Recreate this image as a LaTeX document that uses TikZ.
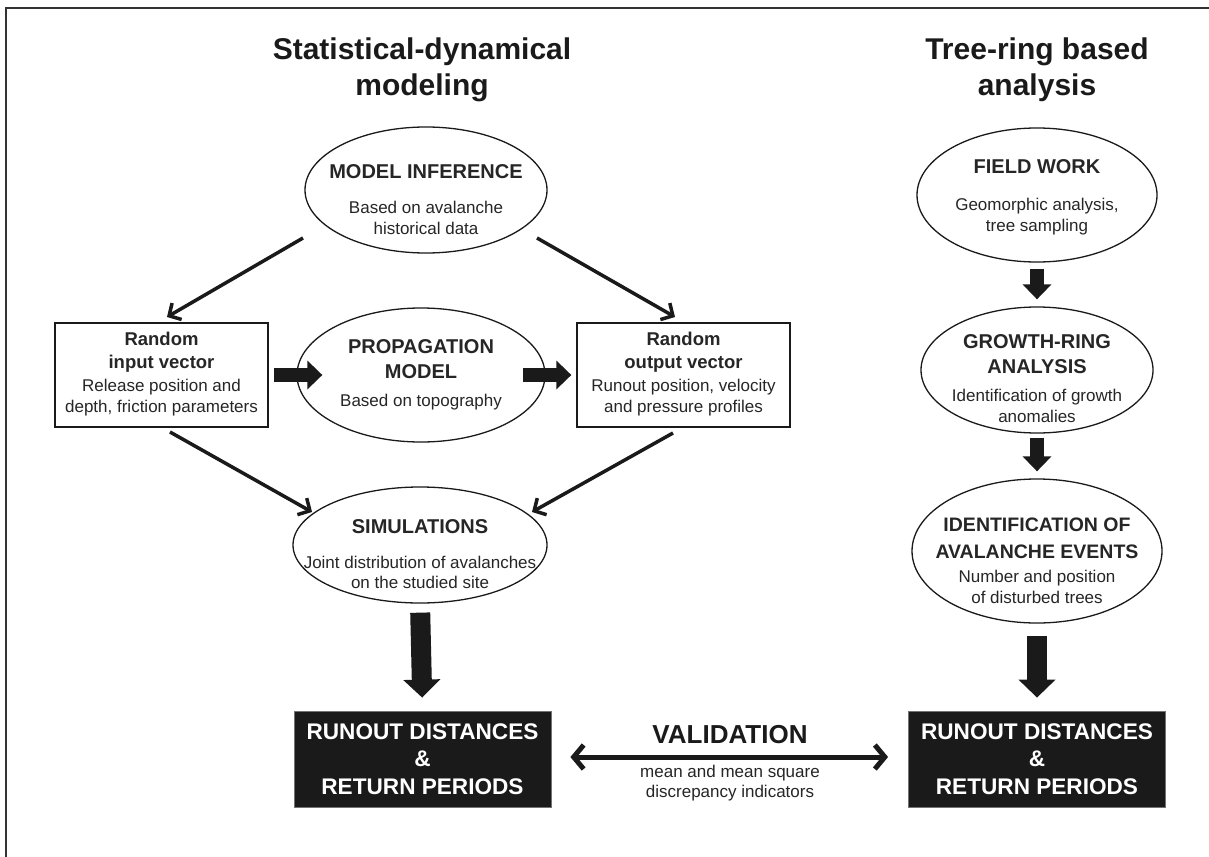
\documentclass[tikz,border=0pt]{standalone}
\usepackage{fontspec}
\setmainfont{Liberation Sans}
\usetikzlibrary{shapes.geometric,arrows.meta}
\definecolor{ink}{HTML}{1A1A1A}
\definecolor{txt}{HTML}{262626}
\begin{document}
\begin{tikzpicture}[x=1pt,y=-1pt,
  ell/.style={draw=ink, line width=1.3pt, ellipse, inner sep=0pt},
  vbox/.style={draw=ink, line width=1.3pt, rectangle, inner sep=0pt, minimum width=213pt, minimum height=104pt},
  hd/.style={font=\fontsize{20}{25}\selectfont\bfseries, align=center, inner sep=0pt, text=txt},
  hdb/.style={font=\fontsize{18.5}{23}\selectfont\bfseries, align=center, inner sep=0pt, text=txt},
  sub/.style={font=\fontsize{17}{20.5}\selectfont, align=center, inner sep=0pt, text=txt},
  ttl/.style={font=\fontsize{30}{36}\selectfont\bfseries, inner sep=0pt, anchor=base, text=ink},
  blk/.style={fill=ink, draw=black!55, line width=0.8pt, inner sep=0pt, minimum width=257pt, minimum height=96pt, text=white, align=center, font=\fontsize{22.6}{27.5}\selectfont\bfseries},
  thinarr/.style={draw=ink, line width=3.5pt, -{Straight Barb[length=9pt,width=19pt]}},
  bigarr/.style={draw=ink, line width=14pt, -{Triangle[length=15pt,width=28pt]}},
  bigarrv/.style={draw=ink, line width=20pt, -{Triangle[length=18pt,width=36pt]}},
  valarr/.style={draw=ink, line width=5pt, {Straight Barb[length=10pt,width=24pt]}-{Straight Barb[length=10pt,width=24pt]}}
]
\fill[white] (0,0) rectangle (1209,856);
\useasboundingbox (0,0) rectangle (1209,856);
\draw[line width=2pt, black!80] (6,860) -- (6,8) -- (1212,8);

% titles
\node[ttl] (t1) at (422,60) {Statistical-dynamical};
\node[ttl] (t2) at (422,96) {modeling};
\node[ttl] (t3) at (1037,60) {Tree-ring based};
\node[ttl] (t4) at (1037,96) {analysis};

% left column
\node[ell, minimum width=242pt, minimum height=126pt] (mi) at (426,190) {};
\node[hd] (mih) at (426,172) {MODEL INFERENCE};
\node[sub] (mis) at (426,218) {Based on avalanche\\historical data};

\node[vbox] (in) at (161.5,375) {};
\node[hdb] (inh) at (161.5,352.5) {Random\\input vector};
\node[sub] (ins) at (161.5,397.5) {Release position and\\depth, friction parameters};

\node[ell, minimum width=248pt, minimum height=134pt] (prop) at (421,375) {};
\node[hd] (proph) at (421,359.5) {PROPAGATION\\MODEL};
\node[sub] (props) at (421,402) {Based on topography};

\node[vbox] (out) at (683.5,375) {};
\node[hdb] (outh) at (683.5,352.5) {Random\\output vector};
\node[sub] (outs) at (683.5,397.5) {Runout position, velocity\\and pressure profiles};

\node[ell, minimum width=254pt, minimum height=116pt] (sim) at (420,545) {};
\node[hd] (simh) at (420,527) {SIMULATIONS};
\node[sub] (sims) at (420,572.5) {Joint distribution of avalanches\\on the studied site};

\node[blk] (lb) at (422.5,759) {RUNOUT DISTANCES\\\&\\RETURN PERIODS};

% right column
\node[ell, minimum width=240pt, minimum height=134pt] (fw) at (1037,195) {};
\node[hd] (fwh) at (1037,167) {FIELD WORK};
\node[sub] (fws) at (1037,216.5) {Geomorphic analysis,\\tree sampling};

\node[ell, minimum width=232pt, minimum height=126pt] (gr) at (1037,370) {};
\node[hd] (grh) at (1037,354) {GROWTH-RING\\ANALYSIS};
\node[sub] (grs) at (1037,406) {Identification of growth\\anomalies};

\node[ell, minimum width=250pt, minimum height=144pt] (id) at (1037,551) {};
\node[hd, font=\fontsize{19.5}{27}\selectfont\bfseries] (idh) at (1037,538.5) {IDENTIFICATION OF\\AVALANCHE EVENTS};
\node[sub] (ids) at (1037,587) {Number and position\\of disturbed trees};

\node[blk] (rb) at (1037,759) {RUNOUT DISTANCES\\\&\\RETURN PERIODS};

% validation
\node[font=\fontsize{26}{30}\selectfont\bfseries, text=ink, inner sep=0pt] (val) at (730,735) {VALIDATION};
\node[sub] (vals) at (730,783) {mean and mean square\\discrepancy indicators};

% thin arrows
\draw[thinarr] ([shift={(-123,48)}]mi.center) -- ([shift={(5.5,-58)}]in.center);
\draw[thinarr] ([shift={(111,48)}]mi.center) -- ([shift={(-8.5,-58)}]out.center);
\draw[thinarr] ([shift={(8.5,57)}]in.center) -- ([shift={(-108,-33)}]sim.center);
\draw[thinarr] ([shift={(-10.5,58)}]out.center) -- ([shift={(112,-33)}]sim.center);

% block arrows
\draw[bigarr, shorten <=5pt, shorten >=-26pt] (in.east) -- (prop.west);
\draw[bigarr, shorten <=-23pt, shorten >=5pt] (prop.east) -- (out.west);
\draw[bigarrv, shorten <=9pt, shorten >=13pt] (sim.south) -- (lb.north);
\draw[bigarr, shorten <=6pt, shorten >=7pt] (fw.south) -- (gr.north);
\draw[bigarr, shorten <=4pt, shorten >=7pt] (gr.south) -- (id.north);
\draw[bigarrv, shorten <=12pt, shorten >=13pt] (id.south) -- (rb.north);

% validation arrow
\draw[valarr, shorten <=19pt, shorten >=20pt] ([yshift=2pt]lb.east) -- ([yshift=2pt]rb.west);
\end{tikzpicture}
\end{document}
